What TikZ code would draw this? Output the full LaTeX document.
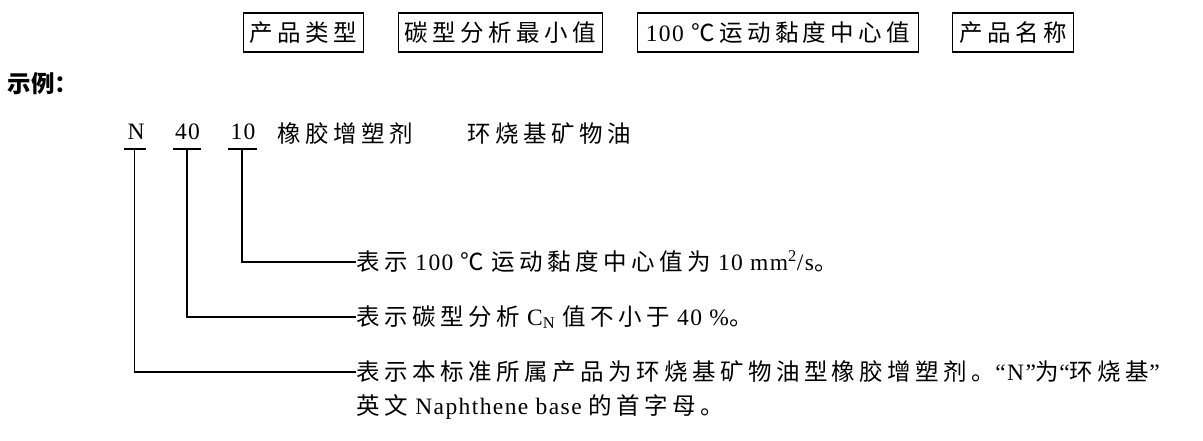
\documentclass[tikz,border=0pt]{standalone}
\usepackage{fontspec}
\setmainfont{Liberation Serif}[LetterSpace=6]
\newfontfamily\cjk[LetterSpace=19]{Noto Sans CJK SC}
\newfontfamily\cjkhei{Noto Sans CJK SC}
\newcommand\zh[1]{{\cjk #1}}
\begin{document}
\begin{tikzpicture}[x=1pt,y=-1pt,
  font=\fontsize{23.5}{28}\selectfont,
  line width=1.2pt,
  hdbox/.style={draw, inner sep=0pt, minimum height=39pt, anchor=west},
  lbl/.style={inner sep=0pt, anchor=west},
  num/.style={inner sep=0pt, anchor=base}]
\useasboundingbox (0,0) rectangle (1203,441);
% header boxes
\node[hdbox, minimum width=120pt] (h1) at (243,32.5) {\zh{产品类型}};
\node[hdbox, minimum width=204pt] (h2) at (398,32.5) {\zh{碳型分析最小值}};
\node[hdbox, minimum width=281pt] (h3) at (637,32.5) {100 \zh{℃运动黏度中心值}};
\node[hdbox, minimum width=121pt] (h4) at (952,32.5) {\zh{产品名称}};
% example
\node[lbl] (ex) at (7,84) {\cjkhei\bfseries 示例：};
\node[num] (N) at (136,140) {N};
\node[num] (f) at (187.5,140) {40};
\node[num] (t) at (243,140) {10};
\node[lbl] (xj) at (277,134) {\zh{橡胶增塑剂}};
\node[lbl] (hw) at (467,134) {\zh{环烧基矿物油}};
% descriptions
\node[lbl] (dA) at (356,262) {\zh{表示} 100 \zh{℃} \zh{运动黏度中心值为} 10 mm\textsuperscript{2}/s\zh{。}};
\node[lbl] (dB) at (356,317) {\zh{表示碳型分析} C\textsubscript{N} \zh{值不小于} 40 \%\zh{。}};
\node[lbl] (dC) at (356,372) {\zh{表示本标准所属产品为环烧基矿物油型橡胶增塑剂。}“N”\zh{为}“\zh{环烧基}”};
\node[lbl] (dD) at (356,407) {\zh{英文} Naphthene base \zh{的首字母。}};
% underlines and leaders
\coordinate (uN1) at (124,149); \coordinate (uN2) at (146,149); \coordinate (uNm) at (134.5,149);
\coordinate (u41) at (173,149); \coordinate (u42) at (201,149); \coordinate (u4m) at (187,149);
\coordinate (u11) at (228,149); \coordinate (u12) at (257,149); \coordinate (u1m) at (242,149);
\draw (uN1) -- (uN2);
\draw (u41) -- (u42);
\draw (u11) -- (u12);
\draw (uNm) |- (dC.west);
\draw (u4m) |- (dB.west);
\draw (u1m) |- (dA.west);
\end{tikzpicture}
\end{document}
